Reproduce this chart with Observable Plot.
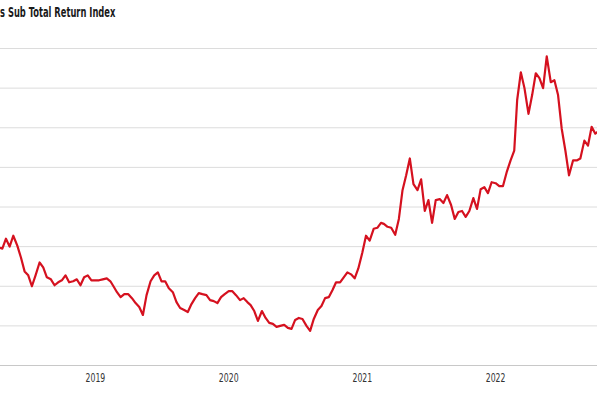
<!DOCTYPE html>
<html>
<head>
<meta charset="utf-8">
<script src="https://cdn.jsdelivr.net/npm/d3@7"></script>
<script src="https://cdn.jsdelivr.net/npm/@observablehq/plot@0.6"></script>
<style>
  html, body { margin: 0; padding: 0; background: #fff; width: 597px; height: 398px; overflow: hidden; }
  #title { height: 24px; line-height: 24px; font-family: "Liberation Sans Narrow", "DejaVu Sans Condensed", "Roboto", sans-serif; font-weight: 700; font-size: 14.5px; color: #1a1a1a; white-space: nowrap; transform-origin: 0 50%; transform: scaleX(0.64); }
</style>
</head>
<body>
<div id="title">s Sub Total Return Index</div>
<div id="chart"></div>
<script>
const titleText = "s Sub Total Return Index";
const yearTicks = ["2019-01-01", "2020-01-01", "2021-01-01", "2022-01-01"];
const gridValues = [140, 180, 220, 260, 300, 340, 380, 420];
const baseValue = 100;
const months = [
  "2018-04","2018-05","2018-06","2018-07","2018-08","2018-09","2018-10","2018-11","2018-12",
  "2019-01","2019-02","2019-03","2019-04","2019-05","2019-06","2019-07","2019-08","2019-09","2019-10","2019-11","2019-12",
  "2020-01","2020-02","2020-03","2020-04","2020-05","2020-06","2020-07","2020-08","2020-09","2020-10","2020-11","2020-12",
  "2021-01","2021-02","2021-03","2021-04","2021-05","2021-06","2021-07","2021-08","2021-09","2021-10","2021-11","2021-12",
  "2022-01","2022-02","2022-03","2022-04","2022-05","2022-06","2022-07","2022-08","2022-09","2022-10"
];
const days = ["01", "11", "21"];
const values = [
  216,219,218, 228,220,231, 221,209,195, 191,180,191, 204,199,189, 187,181,184, 186,191,184, 185,187,181, 189,191,186,
  186,186,187, 188,185,179, 174,169,172, 172,168,163, 159,151,171, 185,191,194, 185,185,178, 174,164,158, 156,154,162, 168,173,172, 171,166,165, 163,169,172,
  175,175,171, 166,168,164, 161,155,145, 155,148,143, 142,139,140, 141,138,137, 146,148,147, 140,135,147, 156,160,168, 169,176,184, 184,189,194, 192,188,198,
  214,231,226, 238,239,244, 243,240,239, 232,248,277, 292,309,283, 277,288,256, 267,244,267, 268,264,272, 262,248,255, 256,250,256, 269,258,278, 280,274,285,
  284,281,281, 296,307,317, 368,396,380, 354,373,395, 390,380,412, 386,388,373, 339,317,292, 307,307,309, 327,322,341, 334,337,335
];

document.getElementById("title").textContent = titleText;
const dates = months.flatMap(m => days.map(d => new Date(`${m}-${d}`)));
const series = dates.map((date, i) => ({date, value: values[i]}));

const chart = Plot.plot({
  width: 597,
  height: 374,
  marginLeft: 0,
  marginRight: 0,
  marginTop: 24,
  marginBottom: 33,
  style: {fontFamily: '"Liberation Sans Narrow", "DejaVu Sans Condensed", Roboto, sans-serif', fontSize: "12px", color: "#333", background: "#fff"},
  x: {type: "utc", domain: [new Date("2018-04-16"), new Date("2022-10-07")]},
  y: {domain: [baseValue, 420], axis: null},
  marks: [
    Plot.ruleY(gridValues, {stroke: "#dcdcdc", strokeWidth: 1}),
    Plot.ruleY([baseValue], {stroke: "#c8c8c8", strokeWidth: 1}),
    Plot.line(series, {x: "date", y: "value", stroke: "#d5111f", strokeWidth: 2.2, clip: true}),
    Plot.axisX(yearTicks.map(d => new Date(d)), {tickSize: 0, tickPadding: 8, tickFormat: "%Y", label: null, fill: "#333", fontWeight: 500})
  ]
});
d3.select(chart).selectAll('g[aria-label="x-axis tick label"] text').each(function() {
  const t = this.getAttribute("transform") || "";
  this.setAttribute("transform", t + " scale(0.72,1)");
});
document.getElementById("chart").appendChild(chart);
</script>
</body>
</html>
